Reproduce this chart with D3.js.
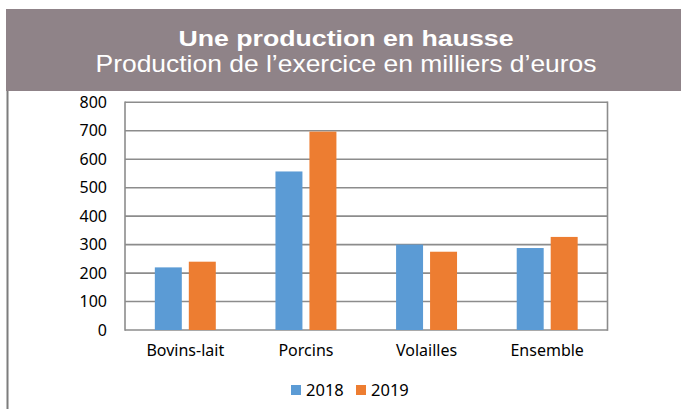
<!DOCTYPE html>
<html>
<head>
<meta charset="utf-8">
<title>Une production en hausse</title>
<script src="https://cdn.jsdelivr.net/npm/d3@7"></script>
<style>
body { margin:0; background:#fff; }
svg text { font-family: "Noto Sans", "Open Sans", sans-serif; fill:#000; }
.grid line { stroke:#8c8c8c; stroke-width:1.6; }
</style>
</head>
<body>
<script>
// data
var categories = ["Bovins-lait", "Porcins", "Volailles", "Ensemble"];
var years = ["2018", "2019"];
var values2018 = [220, 557, 300, 288];
var values2019 = [240, 697, 275, 327];
var yTicks = [0, 100, 200, 300, 400, 500, 600, 700, 800];
var colors = ["#5b9bd5", "#ed7d31"];

var W = 681, H = 409;
var svg = d3.select("body").append("svg").attr("width", W).attr("height", H);

// header band
svg.append("rect").attr("x", 6).attr("y", 9).attr("width", W - 6).attr("height", 82).attr("fill", "#8f8388");
svg.append("line").attr("x1", 7.5).attr("x2", 7.5).attr("y1", 91).attr("y2", H)
  .attr("stroke", "#7d7d7d").attr("stroke-width", 2);

svg.append("text").text("Une production en hausse")
  .attr("x", 346).attr("y", 45.5).attr("text-anchor", "middle")
  .style("font-family", "'Liberation Sans', Arial, sans-serif").style("font-weight", "bold")
  .style("font-size", "22.5px").style("fill", "#fff")
  .attr("textLength", 335).attr("lengthAdjust", "spacingAndGlyphs");
svg.append("text").text("Production de l\u2019exercice en milliers d\u2019euros")
  .attr("x", 346).attr("y", 72).attr("text-anchor", "middle")
  .style("font-family", "'Liberation Sans', Arial, sans-serif")
  .style("font-size", "24px").style("fill", "#fff")
  .attr("textLength", 501).attr("lengthAdjust", "spacingAndGlyphs");

// scales
var pLeft = 125, pRight = 607.5, pTop = 102.3, pBottom = 330;
var x0 = d3.scaleBand().domain(categories).range([pLeft, pRight]).padding(0);
var x1 = d3.scaleBand().domain(years).range([0, x0.bandwidth()]).paddingInner(0.206).paddingOuter(0.878);
var y = d3.scaleLinear().domain([0, 800]).range([pBottom, pTop]);

// grid
var grid = svg.append("g").attr("class", "grid");
grid.selectAll("line").data(yTicks).enter().append("line")
  .attr("x1", pLeft).attr("x2", pRight)
  .attr("y1", function(d){ return y(d); }).attr("y2", function(d){ return y(d); });
grid.append("line").attr("x1", pLeft).attr("x2", pLeft).attr("y1", pTop - 0.8).attr("y2", pBottom + 0.8);
grid.append("line").attr("x1", pRight).attr("x2", pRight).attr("y1", pTop - 0.8).attr("y2", pBottom + 0.8);

// y axis labels
var yAxis = d3.axisLeft(y).tickValues(yTicks).tickSize(0).tickPadding(18);
var ya = svg.append("g").attr("transform", "translate(" + pLeft + ",0)").call(yAxis);
ya.select(".domain").remove();
ya.selectAll("text").style("font-size", "16px").style("font-family", "'Noto Sans', sans-serif").attr("fill", "#000");

// bars
var rows = categories.map(function(c, i){ return {cat:c, vals:[values2018[i], values2019[i]]}; });
var groups = svg.selectAll(".grp").data(rows).enter().append("g")
  .attr("transform", function(d){ return "translate(" + x0(d.cat) + ",0)"; });
groups.selectAll("rect").data(function(d){ return d.vals.map(function(v, j){ return {year:years[j], v:v, j:j}; }); })
  .enter().append("rect")
  .attr("x", function(d){ return x1(d.year); })
  .attr("width", x1.bandwidth())
  .attr("y", function(d){ return y(d.v); })
  .attr("height", function(d){ return pBottom - y(d.v); })
  .attr("fill", function(d){ return colors[d.j]; });

// x labels
var xAxis = d3.axisBottom(x0).tickSize(0).tickPadding(15);
var xa = svg.append("g").attr("transform", "translate(0," + pBottom + ")").call(xAxis);
xa.select(".domain").remove();
xa.selectAll("text").style("font-size", "16px").style("font-family", "'Noto Sans', sans-serif").attr("fill", "#000");

// legend
var legendX = [291, 356];
var lg = svg.selectAll(".lg").data(years).enter().append("g")
  .attr("transform", function(d, i){ return "translate(" + legendX[i] + ",385)"; });
lg.append("rect").attr("width", 10).attr("height", 10).attr("fill", function(d, i){ return colors[i]; });
lg.append("text").text(function(d){ return d; }).attr("x", 15).attr("y", 11)
  .style("font-size", "16.5px");
</script>
</body>
</html>
